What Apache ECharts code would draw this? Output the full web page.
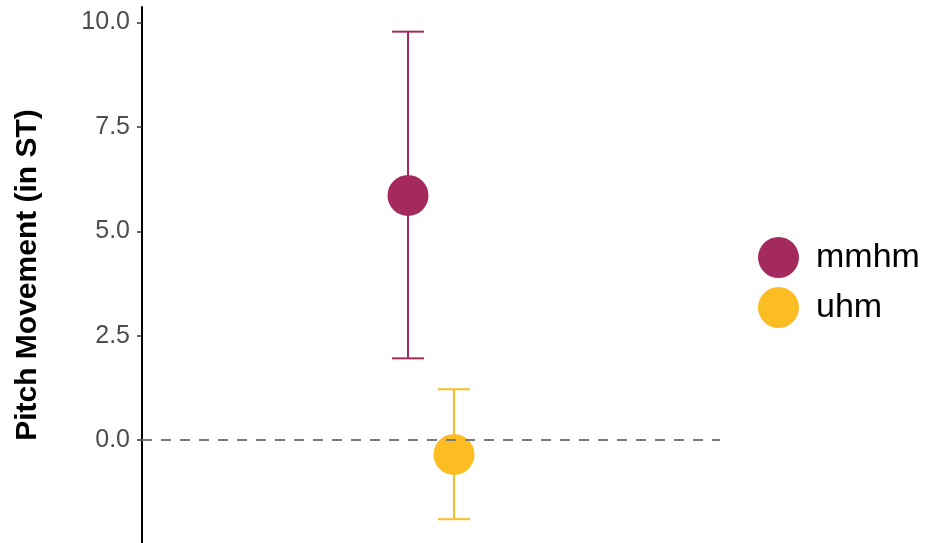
<!DOCTYPE html>
<html>
<head>
<meta charset="utf-8">
<script src="https://cdn.jsdelivr.net/npm/echarts@6/dist/echarts.min.js"></script>
<style>
  html, body { margin: 0; padding: 0; background: #fff; }
  #main { width: 925px; height: 543px; }
</style>
</head>
<body>
<div id="main"></div>
<script>
// data
const groups = ["mmhm", "uhm"]
const means  = [5.86, -0.34]
const lower  = [1.96, -1.89]
const upper  = [9.78, 1.22]
const yTicks = [0, 2.5, 5, 7.5, 10]

// style
const colors = ["#a42a5e", "#fbbd23"]
const dodge  = [-23, 23]
const capHalf = 16

const errorSeries = groups.map((g, i) => ({
  type: "custom",
  name: g,
  z: 2,
  silent: true,
  data: [[0, upper[i], lower[i]]],
  encode: { x: 0, y: [1, 2] },
  renderItem: (params, api) => {
    const top = api.coord([0, api.value(1)])
    const bot = api.coord([0, api.value(2)])
    const x = top[0] + dodge[i]
    const style = { stroke: colors[i], lineWidth: 2 }
    return {
      type: "group",
      children: [
        { type: "line", shape: { x1: x, y1: top[1], x2: x, y2: bot[1] }, style },
        { type: "line", shape: { x1: x - capHalf, y1: top[1], x2: x + capHalf, y2: top[1] }, style },
        { type: "line", shape: { x1: x - capHalf, y1: bot[1], x2: x + capHalf, y2: bot[1] }, style }
      ]
    }
  }
}))

const pointSeries = groups.map((g, i) => ({
  type: "scatter",
  name: g,
  z: 3,
  data: [[0, means[i]]],
  symbol: "circle",
  symbolSize: 41,
  symbolOffset: [dodge[i], 0],
  itemStyle: { color: colors[i], opacity: 1 }
}))

pointSeries[0].markLine = {
  silent: true,
  symbol: "none",
  label: { show: false },
  lineStyle: { color: "#7a7a7a", width: 2, type: [10, 9] },
  data: [{ yAxis: 0 }]
}

const options = {
  animation: false,
  color: colors,
  grid: { left: 142, right: 205, top: 7, bottom: 0 },
  xAxis: { type: "category", data: ["all"], show: false },
  yAxis: {
    type: "value",
    min: -2.46,
    max: 10.37,
    name: "Pitch Movement (in ST)",
    nameLocation: "middle",
    nameGap: 99,
    nameTextStyle: { fontFamily: "Liberation Sans", fontSize: 30, fontWeight: "bold", color: "#000" },
    axisLine: { show: true, lineStyle: { color: "#000", width: 2 } },
    axisTick: { show: true, length: 5, customValues: yTicks, lineStyle: { color: "#333", width: 1.5 } },
    splitLine: { show: false },
    axisLabel: {
      margin: 12,
      fontFamily: "Liberation Sans",
      fontSize: 25,
      color: "#4d4d4d",
      customValues: yTicks,
      formatter: v => v.toFixed(1)
    }
  },
  legend: {
    left: 753,
    top: 232,
    orient: "vertical",
    itemWidth: 41,
    itemHeight: 41,
    itemGap: 9,
    icon: "circle",
    data: groups,
    textStyle: { fontFamily: "Liberation Sans", fontSize: 34, color: "#000", padding: [0, 0, 0, 12] }
  },
  series: [...errorSeries, ...pointSeries]
}

const chartContainer = document.getElementById("main")
const myChart = echarts.init(chartContainer)
myChart.setOption(options)
window.onresize = () => myChart.resize()
</script>
</body>
</html>
